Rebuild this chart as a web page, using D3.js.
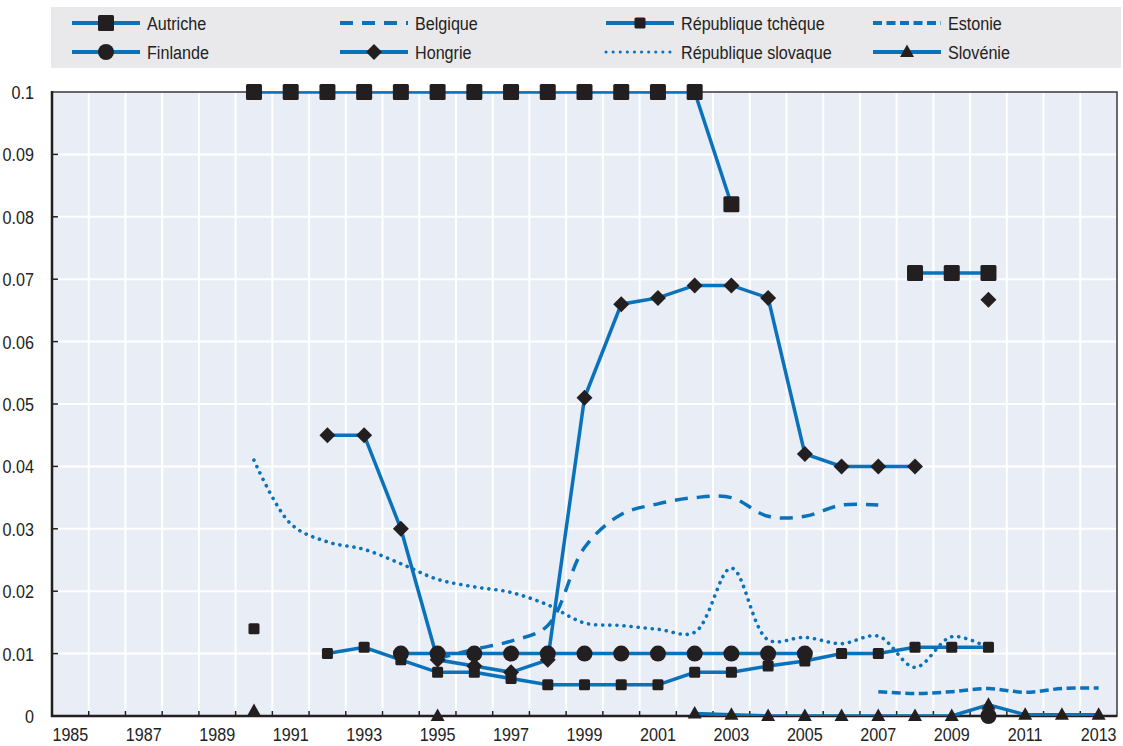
<!DOCTYPE html>
<html>
<head>
<meta charset="utf-8">
<script src="https://cdn.jsdelivr.net/npm/d3@7"></script>
<style>
  html, body { margin: 0; padding: 0; background: #ffffff; }
  svg { display: block; font-family: "Liberation Sans", Arial, sans-serif; }
</style>
</head>
<body>
<svg id="chart" width="1123" height="746"></svg>
<script>
// Years on the horizontal axis (one band per year)
const years = d3.range(1985, 2014);
const yearLabels = years.filter(y => y % 2 === 1);
const yTicks = [0, 0.01, 0.02, 0.03, 0.04, 0.05, 0.06, 0.07, 0.08, 0.09, 0.1];
const yTickLabels = ["0", "0.01", "0.02", "0.03", "0.04", "0.05", "0.06", "0.07", "0.08", "0.09", "0.1"];

// Series values, 1985..2013 (null = no observation)
const autriche = [null,null,null,null,null, 0.1,0.1,0.1,0.1,0.1, 0.1,0.1,0.1,0.1,0.1, 0.1,0.1,0.1,0.082,null, null,null,null,0.071,0.071, 0.071,null,null,null];
const belgique = [null,null,null,null,null, null,null,null,null,null, 0.0092,0.0107,0.012,0.0145,0.027, 0.0323,0.034,0.035,0.035,0.032, 0.032,0.0338,0.0338,null,null, null,null,null,null];
const tcheque = [null,null,null,null,null, 0.014,null,0.01,0.011,0.009, 0.007,0.007,0.006,0.005,0.005, 0.005,0.005,0.007,0.007,0.008, 0.0088,0.01,0.01,0.011,0.011, 0.011,null,null,null];
const estonie = [null,null,null,null,null, null,null,null,null,null, null,null,null,null,null, null,null,null,null,null, null,null,0.0039,0.0036,0.0039, 0.0044,0.0038,0.0044,0.0045];
const finlande = [null,null,null,null,null, null,null,null,null,0.01, 0.01,0.01,0.01,0.01,0.01, 0.01,0.01,0.01,0.01,0.01, 0.01,null,null,null,null, 0,null,null,null];
const hongrie = [null,null,null,null,null, null,null,0.045,0.045,0.03, 0.009,0.008,0.007,0.009,0.051, 0.066,0.067,0.069,0.069,0.067, 0.042,0.04,0.04,0.04,null, 0.0667,null,null,null];
const slovaque = [null,null,null,null,null, 0.041,0.0308,0.0279,0.0267,0.0244, 0.0219,0.0207,0.0198,0.0178,0.0149, 0.0145,0.0139,0.0134,0.0237,0.0122, 0.0126,0.0116,0.0128,0.0078,0.0127, 0.0109,null,null,null];
const slovenie = [null,null,null,null,null, 0.0008,null,null,null,null, 0,null,null,null,null, null,null,0.0004,0.0002,0, 0,0,0,0,0, 0.0018,0.0002,0.0002,0.0002];

const seriesNames = ["Autriche", "Belgique", "République tchèque", "Estonie", "Finlande", "Hongrie", "République slovaque", "Slovénie"];
const seriesValues = [autriche, belgique, tcheque, estonie, finlande, hongrie, slovaque, slovenie];

const BLUE = "#0a72ba";
const INK = "#231f20";
const TEXT = "#222222";
const FONT_SIZE = 19;
const NARROW = 0.85; // horizontal squeeze giving a narrow typeface look

// Line and marker style for each series
const styles = {
  "Autriche":            { dash: null, smooth: false, marker: "square", size: 16 },
  "Belgique":            { dash: "13 9", smooth: true, marker: null },
  "République tchèque":  { dash: null, smooth: false, marker: "square", size: 11 },
  "Estonie":             { dash: "9 4.5", smooth: true, marker: null },
  "Finlande":            { dash: null, smooth: false, marker: "circle", size: 16 },
  "Hongrie":             { dash: null, smooth: false, marker: "diamond", size: 16 },
  "République slovaque": { dash: "0.1 7", smooth: true, marker: null, dotted: true },
  "Slovénie":            { dash: null, smooth: false, marker: "triangle", size: 14 }
};

const svg = d3.select("#chart");

const plot = { left: 52, right: 1117, top: 92, bottom: 716 };

const x = d3.scaleBand().domain(years).range([plot.left, plot.right]).padding(0);
const xc = yr => x(yr) + x.bandwidth() / 2;
const y = d3.scaleLinear().domain([0, 0.1]).range([plot.bottom, plot.top]);

// Text helper: narrow label anchored at (px, py)
function label(parent, px, py, str, anchor) {
  return parent.append("text")
    .attr("transform", `translate(${px},${py}) scale(${NARROW},1)`)
    .attr("text-anchor", anchor || "start")
    .attr("font-size", FONT_SIZE)
    .attr("fill", TEXT)
    .text(str);
}

// Legend panel
const legend = svg.append("g");
legend.append("rect").attr("x", 51).attr("y", 7).attr("width", 1070).attr("height", 61).attr("fill", "#e9e9eb");

// Plot background
svg.append("rect")
  .attr("x", plot.left).attr("y", plot.top)
  .attr("width", plot.right - plot.left).attr("height", plot.bottom - plot.top)
  .attr("fill", "#e8edf6");

svg.append("clipPath").attr("id", "plotClip").append("rect")
  .attr("x", plot.left).attr("y", plot.top)
  .attr("width", plot.right - plot.left).attr("height", plot.bottom - plot.top);

// Grid lines
const grid = svg.append("g").attr("stroke", "#ffffff").attr("stroke-width", 2);
years.slice(1).forEach(yr => {
  grid.append("line").attr("x1", x(yr)).attr("x2", x(yr)).attr("y1", plot.top).attr("y2", plot.bottom);
});
yTicks.filter(v => v > 0 && v < 0.1).forEach(v => {
  grid.append("line").attr("x1", plot.left).attr("x2", plot.right).attr("y1", y(v)).attr("y2", y(v));
});

// Frame
svg.append("rect")
  .attr("x", plot.left).attr("y", plot.top)
  .attr("width", plot.right - plot.left).attr("height", plot.bottom - plot.top)
  .attr("fill", "none").attr("stroke", "#3a3a3a").attr("stroke-width", 1.5);

// Axis labels
const gx = svg.append("g");
yearLabels.forEach(yr => label(gx, xc(yr), plot.bottom + 25, String(yr), "middle"));

const gy = svg.append("g");
yTicks.forEach((v, i) => label(gy, 34, y(v) + 7, yTickLabels[i], "end"));

// Inward tick marks
const ticks = svg.append("g").attr("stroke", INK).attr("stroke-width", 1.5);
years.slice(1).forEach(yr => {
  ticks.append("line").attr("x1", x(yr)).attr("x2", x(yr)).attr("y1", plot.bottom).attr("y2", plot.bottom - 5);
});
yTicks.filter(v => v > 0 && v < 0.1).forEach(v => {
  ticks.append("line").attr("x1", plot.left).attr("x2", plot.left + 6).attr("y1", y(v)).attr("y2", y(v));
});

// Axis lines
svg.append("line").attr("x1", plot.left).attr("x2", plot.left).attr("y1", plot.top - 1).attr("y2", plot.bottom + 1)
  .attr("stroke", INK).attr("stroke-width", 2.5);
svg.append("line").attr("x1", plot.left - 1).attr("x2", plot.right).attr("y1", plot.bottom).attr("y2", plot.bottom)
  .attr("stroke", INK).attr("stroke-width", 2.5);

// Marker shapes
function markerPath(kind, s) {
  const h = s / 2;
  if (kind === "square") {
    const r = 1.5;
    return `M${-h + r},${-h}H${h - r}Q${h},${-h} ${h},${-h + r}V${h - r}Q${h},${h} ${h - r},${h}H${-h + r}Q${-h},${h} ${-h},${h - r}V${-h + r}Q${-h},${-h} ${-h + r},${-h}Z`;
  }
  if (kind === "circle") return d3.symbol(d3.symbolCircle, Math.PI * h * h)();
  if (kind === "diamond") return `M0,${-h}L${h},0L0,${h}L${-h},0Z`;
  if (kind === "triangle") {
    const tH = s * 0.9;
    return `M0,${-tH * 0.6}L${h},${tH * 0.4}L${-h},${tH * 0.4}Z`;
  }
  return "";
}

function styleLine(sel, st, width) {
  sel.attr("fill", "none").attr("stroke", BLUE).attr("stroke-width", width);
  if (st.dash) sel.attr("stroke-dasharray", st.dash);
  if (st.dotted) sel.attr("stroke-linecap", "round");
}

// Series
const lines = svg.append("g").attr("clip-path", "url(#plotClip)");
const marks = svg.append("g");

seriesNames.forEach((name, si) => {
  const st = styles[name];
  const pts = years.map((yr, i) => ({ yr, v: seriesValues[si][i] }));
  const gen = d3.line()
    .defined(d => d.v !== null)
    .x(d => xc(d.yr))
    .y(d => y(d.v))
    .curve(st.smooth ? d3.curveCatmullRom.alpha(0.5) : d3.curveLinear);
  const p = lines.append("path").attr("d", gen(pts));
  styleLine(p, st, st.dotted ? 3.6 : 3.5);

  if (st.marker) {
    marks.append("g").selectAll("path")
      .data(pts.filter(d => d.v !== null))
      .join("path")
      .attr("transform", d => `translate(${xc(d.yr)},${y(d.v)})`)
      .attr("d", markerPath(st.marker, st.size))
      .attr("fill", INK);
  }
});

// Legend entries
const colX = [72, 340, 606, 873];
const rowY = [23, 52];
seriesNames.forEach((name, i) => {
  const st = styles[name];
  const cx = colX[i % 4], cy = rowY[Math.floor(i / 4)];
  const g = legend.append("g");
  const l = g.append("line").attr("x1", cx).attr("x2", cx + 68).attr("y1", cy).attr("y2", cy);
  styleLine(l, st, st.dotted ? 3 : 4);
  if (st.marker) {
    g.append("path").attr("transform", `translate(${cx + 34},${cy})`)
      .attr("d", markerPath(st.marker, st.size)).attr("fill", INK);
  }
  label(g, cx + 75, cy + 7, name, "start");
});
</script>
</body>
</html>
